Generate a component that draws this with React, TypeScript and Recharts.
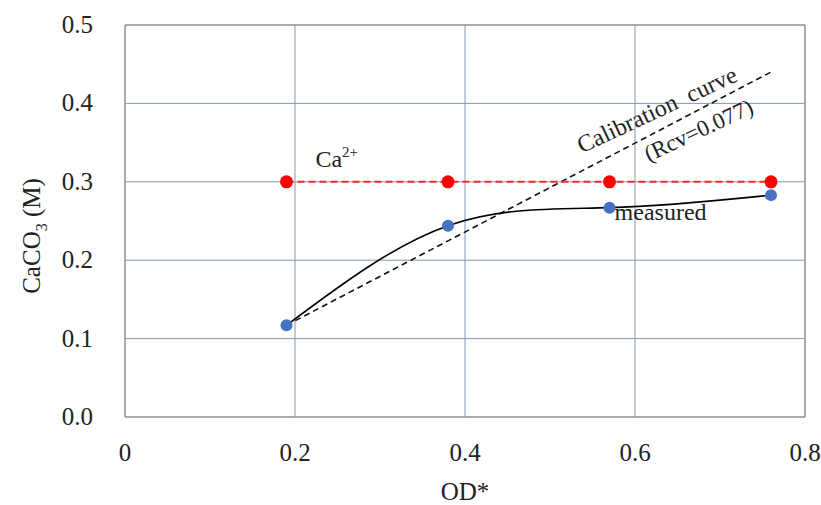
import {
  LineChart,
  Line,
  CartesianGrid,
  XAxis,
  YAxis,
  ReferenceDot,
  ReferenceLine,
} from "recharts";

const odValues = [0.19, 0.38, 0.57, 0.76];
const caIon = [0.3, 0.3, 0.3, 0.3];
const measured = [0.117, 0.244, 0.267, 0.283];
const calibrationX = [0.19, 0.76];
const calibrationY = [0.117, 0.44];
const xTicks = [0, 0.2, 0.4, 0.6, 0.8];
const yTicks = [0, 0.1, 0.2, 0.3, 0.4, 0.5];

const caData = odValues.map((x, i) => ({ x, y: caIon[i] }));
const measData = odValues.map((x, i) => ({ x, y: measured[i] }));
const calData = calibrationX.map((x, i) => ({ x, y: calibrationY[i] }));

const font = "Liberation Serif";
const serif = { fontFamily: font };
const gridColor = "#8597b4";
const borderColor = "#8c8c8c";
const ink = "#222";

function XTick(props: any) {
  const { x, y, payload } = props;
  return (
    <text x={x} y={y + 38} textAnchor="middle" fontSize={25} fill={ink} style={serif}>
      {String(payload.value)}
    </text>
  );
}

function YTick(props: any) {
  const { x, y, payload } = props;
  return (
    <text x={x} y={y + 8} textAnchor="end" fontSize={25} fill={ink} style={serif}>
      {Number(payload.value).toFixed(1)}
    </text>
  );
}

function YLabel() {
  return (
    <text
      transform="translate(40,236) rotate(-90)"
      textAnchor="middle"
      fontSize={25}
      fill={ink}
      style={serif}
    >
      CaCO
      <tspan fontSize={16} dy={7}>3</tspan>
      <tspan dy={-7}> (M)</tspan>
    </text>
  );
}

function XLabel(props: any) {
  const vb = props.viewBox || { x: 125, y: 417, width: 680 };
  return (
    <text
      x={vb.x + vb.width / 2}
      y={vb.y + 83}
      textAnchor="middle"
      fontSize={25}
      fill={ink}
      style={serif}
    >
      OD*
    </text>
  );
}

const textLabel =
  (render: (x: number, y: number) => any) =>
  (props: any) => {
    const vb = props.viewBox || {};
    return render(vb.x ?? 0, vb.y ?? 0);
  };

export default function App() {
  return (
    <div style={{ position: "absolute", left: 0, top: 0 }}>
      <LineChart
        width={821}
        height={505}
        margin={{ top: 25, right: 16, left: 0, bottom: 0 }}
      >
        <CartesianGrid stroke={gridColor} strokeWidth={1} />
        <XAxis
          dataKey="x"
          type="number"
          domain={[0, 0.8]}
          ticks={xTicks}
          tick={<XTick />}
          tickLine={false}
          axisLine={{ stroke: borderColor }}
          tickMargin={0}
          height={88}
          allowDuplicatedCategory={false}
          label={{ content: (p: any) => <XLabel {...p} /> }}
        />
        <YAxis
          type="number"
          domain={[0, 0.5]}
          ticks={yTicks}
          tick={<YTick />}
          tickLine={false}
          axisLine={{ stroke: borderColor }}
          tickMargin={26}
          width={125}
          label={{ content: () => <YLabel /> }}
        />
        <ReferenceLine x={0.8} stroke={borderColor} />
        <ReferenceLine y={0.5} stroke={borderColor} />
        <Line
          data={calData}
          dataKey="y"
          type="linear"
          stroke="#111"
          strokeWidth={1.6}
          strokeDasharray="6 4"
          dot={false}
          isAnimationActive={false}
        />
        <Line
          data={caData}
          dataKey="y"
          type="linear"
          stroke="#ff2a2a"
          strokeWidth={2}
          strokeDasharray="7 4"
          dot={{ r: 6.5, fill: "#ff0000", stroke: "#ff0000", strokeWidth: 0 }}
          isAnimationActive={false}
        />
        <Line
          data={measData}
          dataKey="y"
          type="natural"
          stroke="#000"
          strokeWidth={1.6}
          dot={{ r: 6, fill: "#4472c4", stroke: "#4472c4", strokeWidth: 0 }}
          isAnimationActive={false}
        />
        <ReferenceDot
          x={0.224}
          y={0.319}
          r={0}
          stroke="none"
          label={{
            content: textLabel((x, y) => (
              <text x={x} y={y} fontSize={24} fill={ink} style={serif}>
                Ca<tspan fontSize={15} dy={-10}>2+</tspan>
              </text>
            )),
          }}
        />
        <ReferenceDot
          x={0.576}
          y={0.251}
          r={0}
          stroke="none"
          label={{
            content: textLabel((x, y) => (
              <text x={x} y={y} fontSize={24} fill={ink} style={serif}>
                measured
              </text>
            )),
          }}
        />
        <ReferenceDot
          x={0.627}
          y={0.389}
          r={0}
          stroke="none"
          label={{
            content: textLabel((x, y) => (
              <text
                x={x}
                y={y}
                transform={`rotate(-25 ${x} ${y})`}
                textAnchor="middle"
                dominantBaseline="middle"
                fontSize={24}
                fill={ink}
                style={serif}
              >
                Calibration{"\u00a0\u00a0"}curve
              </text>
            )),
          }}
        />
        <ReferenceDot
          x={0.676}
          y={0.363}
          r={0}
          stroke="none"
          label={{
            content: textLabel((x, y) => (
              <text
                x={x}
                y={y}
                transform={`rotate(-25 ${x} ${y})`}
                textAnchor="middle"
                dominantBaseline="middle"
                fontSize={23}
                fill={ink}
                style={serif}
              >
                (Rcv=0.077)
              </text>
            )),
          }}
        />
      </LineChart>
    </div>
  );
}
